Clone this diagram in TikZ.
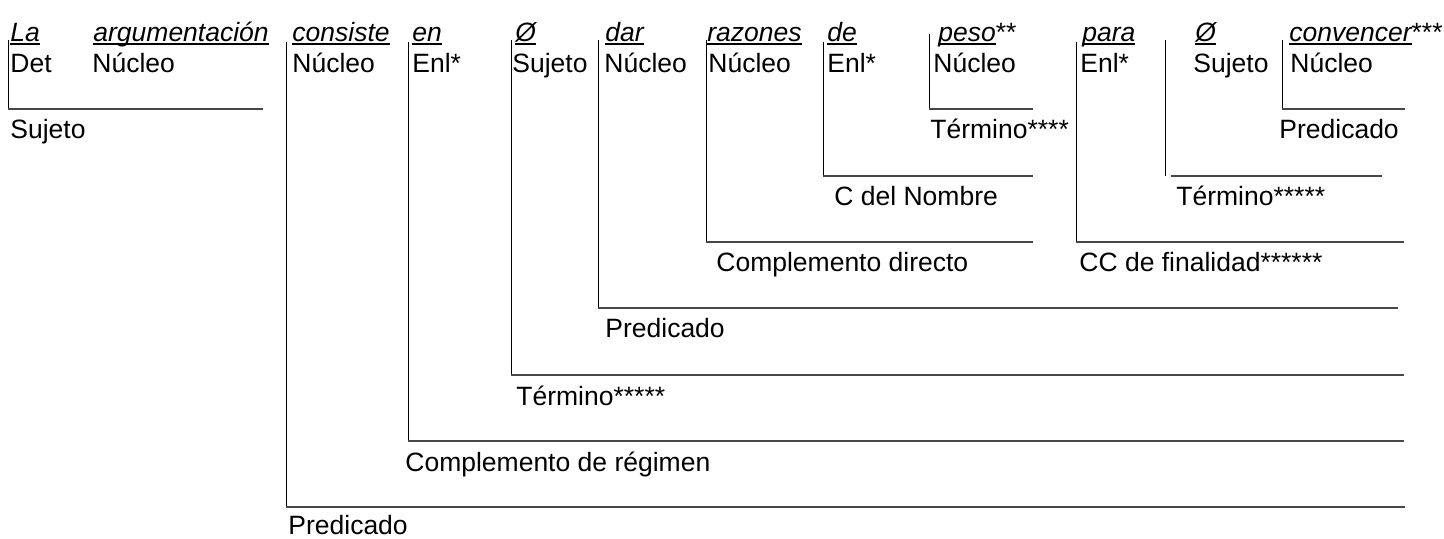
\documentclass[tikz,border=0pt]{standalone}
\usepackage{fontspec}
\setmainfont{Liberation Sans}
\usetikzlibrary{positioning}
\newcommand{\tam}{\fontsize{13.25}{16}\selectfont}
\newcommand{\subr}[1]{\sbox0{\itshape #1}\rlap{\rule[-1.3pt]{\wd0}{0.7pt}}\usebox0}
\tikzset{
  palabra/.style={anchor=base west, inner sep=0pt, font=\tam},
  funcion/.style={anchor=base west, inner sep=0pt, font=\tam},
  etiqueta/.style={anchor=base west, inner sep=0pt, font=\tam},
  raya/.style={draw, line width=0.5pt},
  linea/.style={draw=black!72, line width=0.8pt}
}

\begin{document}
\begin{tikzpicture}[x=0.5pt, y=-0.5pt]
  \useasboundingbox (0,0) rectangle (1444,539);
  % palabras
  \node[palabra] (la) at (10,42) {\subr{La}};
  \node[palabra] (arg) at (93,42) {\subr{argumentación}};
  \node[palabra] (cons) at (292,42) {\subr{consiste}};
  \node[palabra] (en) at (412,42) {\subr{en}};
  \node[palabra] (vac1) at (515,42) {\subr{Ø}};
  \node[palabra] (dar) at (605,42) {\subr{dar}};
  \node[palabra] (raz) at (707,42) {\subr{razones}};
  \node[palabra] (de) at (827,42) {\subr{de}};
  \node[palabra] (peso) at (938,42) {\subr{peso}**};
  \node[palabra] (para) at (1082,42) {\subr{para}};
  \node[palabra] (vac2) at (1195,42) {\subr{Ø}};
  \node[palabra] (conv) at (1289,42) {\subr{convencer}***};
  % funciones
  \node[funcion] (det) at (10,73) {Det};
  \node[funcion] (nuc1) at (92,73) {Núcleo};
  \node[funcion] (nuc2) at (292,73) {Núcleo};
  \node[funcion] (enl1) at (412,73) {Enl*};
  \node[funcion] (suj1) at (512,73) {Sujeto};
  \node[funcion] (nuc3) at (604,73) {Núcleo};
  \node[funcion] (nuc4) at (708,73) {Núcleo};
  \node[funcion] (enl2) at (827,73) {Enl*};
  \node[funcion] (nuc5) at (933,73) {Núcleo};
  \node[funcion] (enl3) at (1080,73) {Enl*};
  \node[funcion] (suj2) at (1193,73) {Sujeto};
  \node[funcion] (nuc6) at (1290,73) {Núcleo};
  % sujeto
  \coordinate (sujA) at (8,40);
  \coordinate (sujB) at (8,109);
  \coordinate (sujC) at (263,109);
  \draw[raya] (sujA) -- (sujB);
  \draw[linea] (sujB) -- (sujC);
  \node[etiqueta] (sujL) at (10,139) {Sujeto};
  % termino de "de"
  \coordinate (terA) at (929,34);
  \coordinate (terB) at (929,109);
  \coordinate (terC) at (1033,109);
  \draw[raya] (terA) -- (terB);
  \draw[linea] (terB) -- (terC);
  \node[etiqueta] (terL) at (930,139) {Término****};
  % predicado de "convencer"
  \coordinate (preA) at (1282,40);
  \coordinate (preB) at (1282,109);
  \coordinate (preC) at (1405,109);
  \draw[raya] (preA) -- (preB);
  \draw[linea] (preB) -- (preC);
  \node[etiqueta] (preL) at (1279,139) {Predicado};
  % complemento del nombre
  \coordinate (cnA) at (823,42);
  \coordinate (cnB) at (823,176);
  \coordinate (cnC) at (1033,176);
  \draw[raya] (cnA) -- (cnB);
  \draw[linea] (cnB) -- (cnC);
  \node[etiqueta] (cnL) at (834,206) {C del Nombre};
  % termino de "para"
  \coordinate (tpA) at (1165,40);
  \coordinate (tpB) at (1165,176);
  \coordinate (tpC) at (1382,176);
  \draw[raya] (tpA) -- (tpB);
  \draw[linea] ([xshift=3pt]tpB) -- (tpC);
  \node[etiqueta] (tpL) at (1176,206) {Término*****};
  % complemento directo
  \coordinate (cdA) at (706,40);
  \coordinate (cdB) at (706,242);
  \coordinate (cdC) at (1033,242);
  \draw[raya] (cdA) -- (cdB);
  \draw[linea] (cdB) -- (cdC);
  \node[etiqueta] (cdL) at (716,272) {Complemento directo};
  % cc de finalidad
  \coordinate (ccA) at (1076,42);
  \coordinate (ccB) at (1076,242);
  \coordinate (ccC) at (1404,242);
  \draw[raya] (ccA) -- (ccB);
  \draw[linea] (ccB) -- (ccC);
  \node[etiqueta] (ccL) at (1079,272) {CC de finalidad******};
  % predicado de "dar"
  \coordinate (pdA) at (598,40);
  \coordinate (pdB) at (598,308);
  \coordinate (pdC) at (1398,308);
  \draw[raya] (pdA) -- (pdB);
  \draw[linea] (pdB) -- (pdC);
  \node[etiqueta] (pdL) at (605,338) {Predicado};
  % termino de "en"
  \coordinate (teA) at (511,40);
  \coordinate (teB) at (511,375);
  \coordinate (teC) at (1404,375);
  \draw[raya] (teA) -- (teB);
  \draw[linea] (teB) -- (teC);
  \node[etiqueta] (teL) at (516,405) {Término*****};
  % complemento de regimen
  \coordinate (crA) at (408,42);
  \coordinate (crB) at (408,441);
  \coordinate (crC) at (1404,441);
  \draw[raya] (crA) -- (crB);
  \draw[linea] (crB) -- (crC);
  \node[etiqueta] (crL) at (405,471) {Complemento de régimen};
  % predicado
  \coordinate (pA) at (286,42);
  \coordinate (pB) at (286,507);
  \coordinate (pC) at (1405,507);
  \draw[raya] (pA) -- (pB);
  \draw[linea] (pB) -- (pC);
  \node[etiqueta] (pL) at (288,534) {Predicado};
\end{tikzpicture}
\end{document}
